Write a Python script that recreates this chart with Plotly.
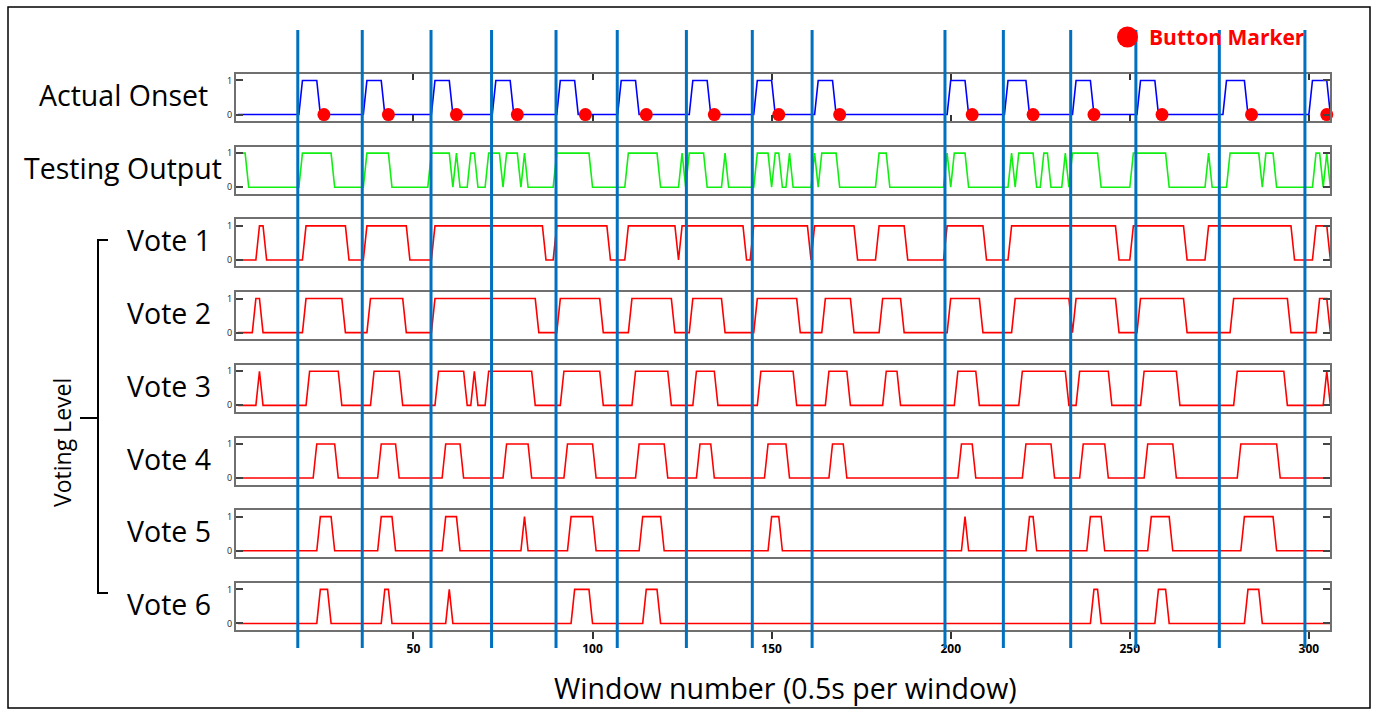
import plotly.graph_objects as go

# ---------------- data (window numbers) ----------------
N_WINDOWS_START = 1
N_WINDOWS_END = 306

PANEL_LABELS = ["Actual Onset", "Testing Output", "Vote 1", "Vote 2",
                "Vote 3", "Vote 4", "Vote 5", "Vote 6"]

# each pulse = [first window at 1, last window at 1]
onset_pulses = [[19, 23], [37, 41], [56, 60], [73, 77], [91, 95], [108, 112],
                [128, 132], [146, 150], [163, 167], [200, 204], [216, 221],
                [235, 239], [253, 257], [277, 282], [301, 305]]

button_markers = [25, 43, 62, 79, 98, 115, 134, 152, 169, 206, 223, 240, 259, 284, 305]

testing_pulses = [[1, 3], [19, 27], [37, 43], [55, 60], [62, 62], [66, 67],
                  [71, 74], [76, 79], [81, 81], [90, 99], [110, 118], [125, 125],
                  [127, 131], [137, 137], [146, 149], [151, 152], [155, 155],
                  [162, 162], [164, 168], [180, 182], [199, 199], [201, 204],
                  [217, 217], [219, 223], [226, 227], [232, 232], [234, 241],
                  [251, 260], [272, 272], [278, 286], [288, 290], [302, 303],
                  [305, 305]]

vote1_pulses = [[7, 8], [20, 31], [37, 48], [56, 86], [90, 104], [110, 123],
                [125, 142], [145, 160], [162, 173], [180, 187], [199, 209],
                [217, 246], [251, 265], [272, 295], [302, 305]]

vote2_pulses = [[6, 7], [20, 30], [38, 47], [56, 84], [91, 102], [111, 122],
                [128, 136], [146, 157], [165, 172], [181, 186], [200, 208],
                [218, 233], [235, 246], [253, 265], [279, 294], [303, 305]]

vote3_pulses = [[7, 7], [21, 29], [39, 46], [57, 64], [67, 67], [71, 83],
                [92, 102], [112, 121], [129, 134], [147, 156], [166, 171],
                [182, 185], [202, 207], [220, 232], [236, 244], [254, 263],
                [280, 293], [305, 305]]

vote4_pulses = [[23, 28], [41, 45], [59, 63], [76, 82], [93, 100], [113, 120],
                [130, 133], [149, 154], [167, 170], [203, 206], [221, 228],
                [237, 243], [255, 262], [281, 291]]

vote5_pulses = [[24, 27], [41, 44], [59, 62], [81, 81], [94, 100], [114, 119],
                [150, 152], [204, 204], [222, 223], [239, 242], [256, 261],
                [282, 290]]

vote6_pulses = [[24, 26], [42, 43], [60, 60], [95, 99], [115, 118],
                [240, 241], [258, 260], [283, 286]]

# windows where the blue reference lines are drawn
blue_lines = [17.7, 35.7, 54.9, 71.8, 89.8, 106.9, 126.2, 144.6, 161.3,
              198.4, 214.7, 233.5, 251.7, 275.0, 298.9]

x_tick_vals = [50, 100, 150, 200, 250, 300]
x_tick_text = ["50", "100", "150", "200", "250", "300"]

# ---------------- layout helpers ----------------
W, H = 1378, 715
L_PX, R_PX = 236, 1330
X_RANGE = [0.45, 305.9]
Y_RANGE = [-0.19, 1.19]
PANEL_TOP0, PANEL_STEP, PANEL_H = 74, 72.7, 47


def px_x(px):
    return (px - L_PX) / (R_PX - L_PX)


def px_y(py):
    return 1 - py / H


def pulse_vertices(pulses, start=N_WINDOWS_START, end=N_WINDOWS_END):
    xs, ys = [], []
    if pulses[0][0] > start:
        xs.append(start); ys.append(0)
    for a, b in pulses:
        if xs and a - 1 > xs[-1]:
            xs.append(a - 1); ys.append(0)
        xs += [max(a, start), min(b, end)]
        ys += [1, 1]
        if b + 1 <= end:
            xs.append(b + 1); ys.append(0)
    if xs[-1] < end:
        xs.append(end); ys.append(0)
    return xs, ys


series = [
    (onset_pulses, "#0000FF"),
    (testing_pulses, "#11EE11"),
    (vote1_pulses, "#FF0000"),
    (vote2_pulses, "#FF0000"),
    (vote3_pulses, "#FF0000"),
    (vote4_pulses, "#FF0000"),
    (vote5_pulses, "#FF0000"),
    (vote6_pulses, "#FF0000"),
]

fig = go.Figure()
layout = dict(
    width=W, height=H,
    margin=dict(l=L_PX, r=W - R_PX, t=0, b=0),
    paper_bgcolor="white", plot_bgcolor="white",
    showlegend=False,
    font=dict(family="Open Sans", color="black"),
)

AX_LINE = "#707070"
n = len(series)
for i, (pulses, color) in enumerate(series):
    suf = "" if i == 0 else str(i + 1)
    xs, ys = pulse_vertices(pulses)
    fig.add_trace(go.Scatter(x=xs, y=ys, mode="lines",
                             line=dict(color=color, width=1.6),
                             xaxis="x" + suf, yaxis="y" + suf,
                             hoverinfo="skip"))
    top = PANEL_TOP0 + PANEL_STEP * i
    bot = top + PANEL_H
    xa = dict(domain=[0, 1], range=X_RANGE, anchor="y" + suf,
              showgrid=False, zeroline=False, showline=True, mirror=True,
              linecolor=AX_LINE, linewidth=2, showticklabels=False, ticks="")
    if i == 0:
        xa.update(ticks="inside", mirror="ticks", ticklen=6, tickwidth=1.5,
                  tickcolor="#333333", tickvals=x_tick_vals)
    if i == n - 1:
        xa.update(ticks="outside", ticklen=7, tickwidth=1.5, tickcolor="#333333",
                  tickvals=x_tick_vals, ticktext=x_tick_text, showticklabels=True,
                  tickfont=dict(size=12, color="black", family="Open Sans", weight="bold"))
    ya = dict(domain=[px_y(bot), px_y(top)], range=Y_RANGE, anchor="x" + suf,
              showgrid=False, zeroline=False, showline=True, mirror="ticks",
              linecolor=AX_LINE, linewidth=2, ticks="inside", ticklen=7,
              tickwidth=1.5, tickcolor="#444444", tickvals=[0, 1],
              ticktext=["0", "1"], tickfont=dict(size=9, color="#222222"))
    layout["xaxis" + suf] = xa
    layout["yaxis" + suf] = ya

# button markers on the onset panel
fig.add_trace(go.Scatter(x=button_markers, y=[0] * len(button_markers),
                         mode="markers", marker=dict(color="#FF0000", size=13),
                         xaxis="x", yaxis="y", cliponaxis=False, hoverinfo="skip"))

shapes = []
for v in blue_lines:
    shapes.append(dict(type="line", xref="x" + str(n), yref="paper",
                       x0=v, x1=v, y0=px_y(648), y1=px_y(30),
                       line=dict(color="#0070C0", width=3), layer="above"))

# outer frame
shapes.append(dict(type="rect", xref="paper", yref="paper",
                   x0=px_x(8), x1=px_x(1370), y0=px_y(708), y1=px_y(7),
                   line=dict(color="black", width=1.5)))
# bracket for voting level
bx = 98
shapes.append(dict(type="path", xref="paper", yref="paper",
                   path=f"M {px_x(108)},{px_y(240)} L {px_x(bx)},{px_y(240)} "
                        f"L {px_x(bx)},{px_y(593)} L {px_x(108)},{px_y(593)}",
                   line=dict(color="black", width=2)))
shapes.append(dict(type="line", xref="paper", yref="paper",
                   x0=px_x(80), x1=px_x(bx), y0=px_y(418), y1=px_y(418),
                   line=dict(color="black", width=2)))
# legend dot
shapes.append(dict(type="circle", xref="paper", yref="paper",
                   x0=px_x(1117), x1=px_x(1138), y0=px_y(47.5), y1=px_y(26.5),
                   fillcolor="#FF0000", line=dict(width=0)))
layout["shapes"] = shapes

ann = []
LABEL_FONT = dict(family="Open Sans", size=28.5, color="black")
label_cx = [123, 123, 169, 169, 169, 169, 169, 169]
for i, txt in enumerate(PANEL_LABELS):
    cy = PANEL_TOP0 + PANEL_STEP * i + 21
    ann.append(dict(text=txt, xref="paper", yref="paper", x=px_x(label_cx[i]),
                    y=px_y(cy), xanchor="center", yanchor="middle",
                    showarrow=False, font=LABEL_FONT))
ann.append(dict(text="Voting Level", xref="paper", yref="paper", x=px_x(62),
                y=px_y(443), xanchor="center", yanchor="middle", textangle=-90,
                showarrow=False, font=dict(family="Open Sans", size=23, color="black")))
ann.append(dict(text="Window number (0.5s per window)", xref="paper", yref="paper",
                x=px_x(785), y=px_y(688), xanchor="center", yanchor="middle",
                showarrow=False, font=LABEL_FONT))
ann.append(dict(text="Button Marker", xref="paper", yref="paper", x=px_x(1147),
                y=px_y(37), xanchor="left", yanchor="middle", showarrow=False,
                font=dict(family="Open Sans", size=21, color="#FF0000", weight="bold")))
layout["annotations"] = ann

fig.update_layout(**layout)
fig.write_html("out.html")
